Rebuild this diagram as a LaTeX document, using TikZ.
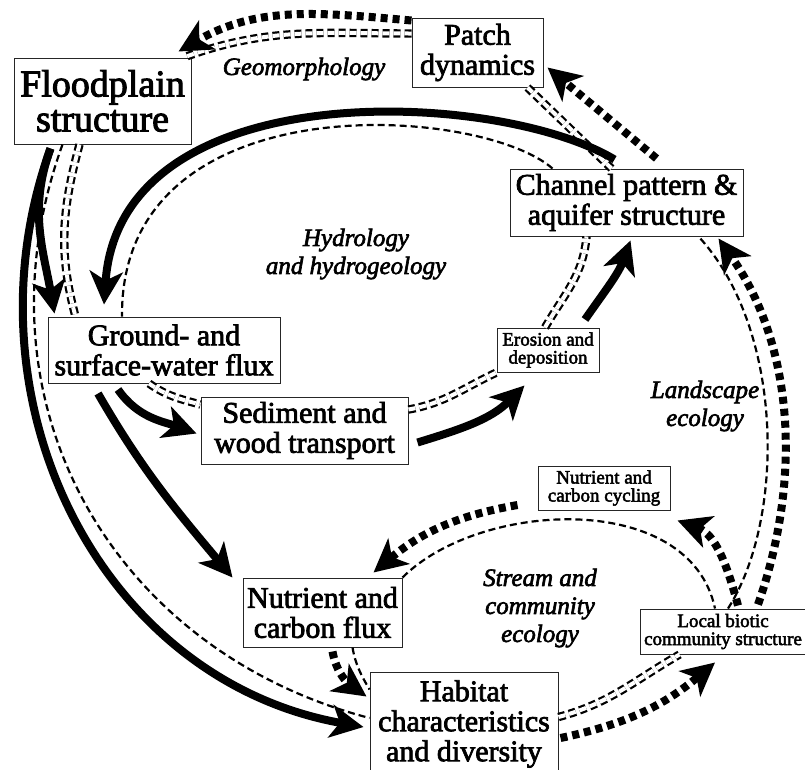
\documentclass[tikz,border=0pt]{standalone}
\usepackage{fontspec}
\setmainfont{Liberation Serif}[FakeBold=2.5]
\usetikzlibrary{arrows.meta}

\begin{document}
\begin{tikzpicture}[x=1pt,y=-1pt,
    box/.style={draw=black!85,line width=1pt,fill=white,align=center,inner sep=1pt,
      font=\fontsize{30}{30}\selectfont},
    smallbox/.style={box,font=\fontsize{19}{18}\selectfont},
    area/.style={align=center,font=\fontsize{25}{28}\selectfont\itshape},
    flow/.style={line width=8pt,-{Stealth[length=33pt,width=33pt,inset=9pt]}},
    dotflow/.style={flow,dash pattern=on 7pt off 5pt},
    link/.style={line width=2.2pt,dash pattern=on 7pt off 4pt},
    links/.style={link,double,double distance=4pt}]
\useasboundingbox (0,0) rectangle (805,769);
% boxes
\node[box,minimum width=177pt,minimum height=86pt,font=\fontsize{38}{35}\selectfont] (flood) at (102.5,101) {Floodplain\\structure};
\node[box,minimum width=131pt,minimum height=69pt] (patch) at (477.5,52.5) {Patch\\dynamics};
\node[box,minimum width=233pt,minimum height=67pt] (chan) at (626.5,202.5) {Channel pattern \&\\aquifer structure};
\node[smallbox,minimum width=102pt,minimum height=44pt] (eros) at (548,350) {Erosion and\\deposition};
\node[box,minimum width=232pt,minimum height=66pt] (water) at (164,350) {Ground- and\\surface-water flux};
\node[box,minimum width=207pt,minimum height=67pt] (sedi) at (304.5,430.5) {Sediment and\\wood transport};
\node[box,minimum width=159pt,minimum height=69pt] (nflux) at (322.5,612.5) {Nutrient and\\carbon flux};
\node[box,minimum width=188pt,minimum height=104pt] (habit) at (464,724) {Habitat\\characteristics\\and diversity};
\node[smallbox,minimum width=132pt,minimum height=44pt] (ncyc) at (604,488) {Nutrient and\\carbon cycling};
\node[smallbox,minimum width=166pt,minimum height=45pt] (biota) at (723,631.5) {Local biotic\\community structure};
% area names
\node[area] (geo) at (304,69) {Geomorphology};
\node[area] (hydro) at (356,254) {Hydrology\\and hydrogeology};
\node[area] (land) at (705,406) {Landscape\\ecology};
\node[area] (stream) at (540,608) {Stream and\\community\\ecology};
% geomorphology
\draw[links] ([yshift=-16pt]patch.north west) to[out=180,in=20] ([xshift=-8pt]flood.north east);
\draw[dotflow] ([yshift=-3pt]patch.north west) to[out=175,in=30] ([xshift=-13pt,yshift=6pt]flood.north east);
\draw[links] ([xshift=50pt]patch.south) -- ([xshift=-15pt]chan.north);
\draw[dotflow] ([xshift=30pt,yshift=10pt]chan.north) -- ([xshift=4pt,yshift=-15pt]patch.east);
% hydrology
\draw[link] ([xshift=43pt]chan.north west) .. controls (480,105) and (120,80) .. ([xshift=-42pt]water.north);
\draw[flow] ([xshift=-12pt,yshift=9pt]chan.north) .. controls (500,90) and (120,70) .. ([xshift=-60pt,yshift=12pt]water.north);
\draw[link] ([xshift=-40pt]flood.south) .. controls (-30,400) and (110,650) .. ([yshift=6pt]habit.west);
\draw[links] ([xshift=-23pt]flood.south) to[out=-105,in=105] ([xshift=28pt]water.north west);
\draw[flow] ([xshift=-52pt,yshift=-4pt]flood.south) to[out=-110,in=100] ([xshift=7pt,yshift=3pt]water.north west);
\draw[flow] ([xshift=-52pt,yshift=-4pt]flood.south) .. controls (-40,400) and (100,680) .. ([xshift=-6pt,yshift=-3pt]habit.west);
\draw[links] ([xshift=-15pt]water.south) to[out=-35,in=165] ([yshift=-8pt]sedi.north west);
\draw[flow] ([xshift=-46pt,yshift=-6pt]water.south) to[out=-55,in=160] ([xshift=-4pt,yshift=-3pt]sedi.west);
\draw[flow] ([xshift=-66pt,yshift=-10pt]water.south) to[out=-60,in=130] ([xshift=-10pt]nflux.north west);
\draw[links] ([yshift=21pt]sedi.east) to[out=10,in=205] (eros.south west);
\draw[flow] ([xshift=9pt,yshift=-12pt]sedi.east) to[out=17,in=225] ([xshift=28pt,yshift=-13pt]eros.south west);
\draw[links] ([xshift=-3pt]eros.north) to[out=60,in=265] ([xshift=-40pt]chan.south);
\draw[flow] ([xshift=37pt,yshift=8pt]eros.north) to[out=55,in=250] ([xshift=4pt,yshift=-4pt]chan.south);
% landscape
\draw[link] ([xshift=5pt]biota.north) .. controls (785,520) and (785,330) .. ([xshift=-45pt]chan.south east);
\draw[dotflow] ([xshift=35pt,yshift=4pt]biota.north) .. controls (805,470) and (790,340) .. ([xshift=-25pt,yshift=-2pt]chan.south east);
% stream
\draw[link] (nflux.north east) .. controls (480,500) and (690,490) .. ([xshift=-8pt]biota.north);
\draw[dotflow] ([xshift=15pt,yshift=3pt]biota.north) to[out=105,in=-20] ([xshift=7pt,yshift=-10pt]ncyc.south east);
\draw[dotflow] ([xshift=-20pt,yshift=-17pt]ncyc.west) to[out=190,in=40] ([xshift=-29pt,yshift=5pt]nflux.north east);
\draw[link] ([xshift=30pt]nflux.south) to[out=-80,in=120] ([yshift=-18pt]habit.north west);
\draw[dotflow] ([xshift=10pt,yshift=-4pt]nflux.south) to[out=-80,in=145] ([xshift=-3pt,yshift=-25pt]habit.north west);
\draw[links] ([yshift=7pt]habit.east) to[out=15,in=-150] ([xshift=40pt]biota.south west);
\draw[dotflow] ([xshift=2pt,yshift=-14pt]habit.east) to[out=12,in=-140] ([xshift=-8pt,yshift=-8pt]biota.south);
\end{tikzpicture}
\end{document}
